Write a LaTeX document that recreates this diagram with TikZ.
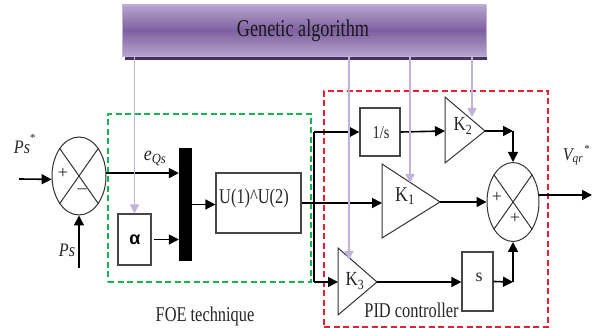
\documentclass[tikz,border=0pt]{standalone}
\usepackage{fontspec}
\setmainfont{Liberation Serif}
\newfontfamily\arialfont{Liberation Sans}
\usetikzlibrary{arrows.meta,shapes.geometric,calc}
\definecolor{galine}{RGB}{192,178,216}
\definecolor{gatop}{RGB}{182,164,204}
\definecolor{gamid}{RGB}{126,96,160}
\definecolor{gashadow}{RGB}{70,50,95}
\definecolor{boxedge}{RGB}{70,70,70}
\definecolor{foegreen}{RGB}{20,180,80}
\definecolor{pidred}{RGB}{235,30,50}
\tikzset{
 x=1pt,y=-1pt,
 sig/.style={line width=1.6pt,black,-{Triangle[length=10pt,width=10pt]}},
 plainsig/.style={line width=1.6pt,black},
 ga/.style={line width=1.6pt,galine,-{Triangle[length=9pt,width=9pt]}},
 blockbox/.style={draw=boxedge,line width=1.2pt,fill=white,inner sep=0pt},
 summer/.style={draw=black!80,line width=1pt,ellipse,inner sep=0pt,fill=white},
 gain/.style={draw=black!80,line width=1pt,fill=white,line join=miter},
 lab/.style={inner sep=0pt,text=black!85},
}
\begin{document}
\begin{tikzpicture}
\useasboundingbox (0,0) rectangle (592,328);
\fill[white] (0,0) rectangle (592,328);
% dashed regions
\node[draw=foegreen,dash pattern=on 6pt off 3.5pt,line width=1.3pt,minimum width=203pt,minimum height=168pt,inner sep=0pt] (foe) at (209.5,198) {};
\node[draw=pidred,dash pattern=on 6pt off 3.5pt,line width=1.3pt,minimum width=224pt,minimum height=236pt,inner sep=0pt] (pid) at (436,209) {};
% genetic algorithm
\fill[gashadow] (125,9) rectangle (487,60);
\node[inner sep=0pt,minimum width=364pt,minimum height=51pt,draw=galine,line width=.8pt,top color=gatop,bottom color=gatop,middle color=gamid] (gabox) at (304,30.5) {};
\node[lab,text=black!90,xscale=.76] (galab) at (303,31) {\fontsize{24}{24}\selectfont Genetic algorithm};
% left summer
\node[summer,minimum width=54pt,minimum height=78pt] (suma) at (79,176) {};
\draw[black!80,line width=1pt] (suma.55) -- (suma.235) (suma.125) -- (suma.305);
\node[lab] (plusa) at (63,173) {\fontsize{18}{18}\selectfont +};
\node[lab] (minusa) at (82,191) {\fontsize{18}{18}\selectfont –};
% FOE blocks
\node[blockbox,minimum width=33pt,minimum height=51pt] (alpha) at (134.5,239.5) {};
\node[lab,text=black] (alphalab) at (135,240) {\arialfont\bfseries\fontsize{18}{18}\selectfont α};
\node[fill=black,inner sep=0pt,minimum width=13pt,minimum height=113pt] (mux) at (185.5,204.5) {};
\node[blockbox,minimum width=85pt,minimum height=60pt] (ublock) at (258.5,203) {};
\node[lab,xscale=.78] (ulab) at (254,198) {\fontsize{21}{21}\selectfont U(1)\textasciicircum U(2)};
% PID blocks
\node[blockbox,minimum width=40pt,minimum height=48pt] (integ) at (380,132) {};
\node[lab,xscale=.8] (integlab) at (381,133) {\fontsize{18}{18}\selectfont 1/s};
\node[blockbox,minimum width=31pt,minimum height=59pt] (deriv) at (477.5,281.5) {};
\node[lab] (derivlab) at (479,277) {\fontsize{18}{18}\selectfont s};
% gains
\coordinate (kbin) at (445,131);
\coordinate (kbout) at (485,131);
\coordinate (kain) at (382,202);
\coordinate (kaout) at (440,202);
\coordinate (kcin) at (338,282);
\coordinate (kcout) at (377,282);
\draw[gain] (445,97) -- (kbout) -- (445,163) -- cycle;
\draw[gain] (382,164) -- (kaout) -- (382,238) -- cycle;
\draw[gain] (338,248) -- (kcout) -- (338,315) -- cycle;
\node[lab,xscale=.85] (kblab) at (463,126) {\fontsize{20}{20}\selectfont K\textsubscript{2}};
\node[lab,xscale=.85] (kalab) at (405,196) {\fontsize{21}{21}\selectfont K\textsubscript{1}};
\node[lab,xscale=.85] (kclab) at (355,281) {\fontsize{20}{20}\selectfont K\textsubscript{3}};
% right summer
\node[summer,minimum width=52pt,minimum height=79pt] (sumb) at (513,202) {};
\draw[black!80,line width=1pt] (sumb.55) -- (sumb.235) (sumb.125) -- (sumb.305);
\node[lab] (plusb) at (497,197) {\fontsize{18}{18}\selectfont +};
\node[lab] (plusc) at (515,218) {\fontsize{18}{18}\selectfont +};
% coordinates
\coordinate (in) at (19,179);
\coordinate (ps) at (79,268);
\coordinate (bus) at (314,203);
\coordinate (kbcorner) at (513,131);
\coordinate (derivout) at (513,282);
\coordinate (out) at (592,195);
\coordinate (tipa) at (349,260);
\coordinate (tipb) at (410,183);
\coordinate (tipc) at (472,117);
% signals
\draw[sig] (in) -- (suma.187);
\draw[sig] (ps) -- (suma.south);
\draw[sig] (suma.6) -- (suma.6 -| mux.west);
\draw[sig] ($(alpha.east)+(2,0)$) -- (alpha.east -| mux.west);
\draw[sig] (mux.east) -- (mux.east -| ublock.west);
\draw[sig] (ublock.east) -- (ublock.east -| kain);
\draw[plainsig] (bus |- integ.west) -- (bus |- kcin);
\draw[sig] (bus |- integ.west) -- (integ.west);
\draw[sig] (bus |- kcin) -- (kcin);
\draw[sig] (integ.east) -- (kbin);
\draw[sig] (kbout) -- (kbcorner);
\draw[sig] (kbcorner) -- (sumb.north);
\draw[sig] (kaout) -- (sumb.west);
\draw[sig] (kcout) -- (kcout -| deriv.west);
\draw[sig] (deriv.east) -- (derivout);
\draw[sig] (derivout) -- (sumb.south);
\draw[sig] (sumb.15) -- (out);
% GA lines
\draw[ga] (gabox.south -| alpha.north) -- (alpha.north);
\draw[ga] (gabox.south -| tipa) -- (tipa);
\draw[ga] (gabox.south -| tipb) -- (tipb);
\draw[ga] (gabox.south -| tipc) -- (tipc);
% labels
\node[lab,xscale=.85] (psstar) at (22,147) {\fontsize{19}{19}\selectfont\itshape Ps};
\node[lab] (psstarb) at (33,138) {\fontsize{11}{11}\selectfont *};
\node[lab,xscale=.85] (pslab) at (67,250) {\fontsize{19}{19}\selectfont\itshape Ps};
\node[lab,xscale=.9] (eqs) at (155,158) {\fontsize{20}{20}\selectfont\itshape e\textsubscript{Qs}};
\node[lab,xscale=.78] (foelab) at (205,316) {\fontsize{21}{21}\selectfont FOE technique};
\node[lab,xscale=.78] (pidlab) at (411.5,310) {\fontsize{21}{21}\selectfont PID controller};
\node[lab,xscale=.9] (vqr) at (573,157) {\fontsize{18}{18}\selectfont\itshape V\textsubscript{qr}};
\node[lab] (vqrs) at (587,149) {\fontsize{11}{11}\selectfont *};
\end{tikzpicture}
\end{document}
